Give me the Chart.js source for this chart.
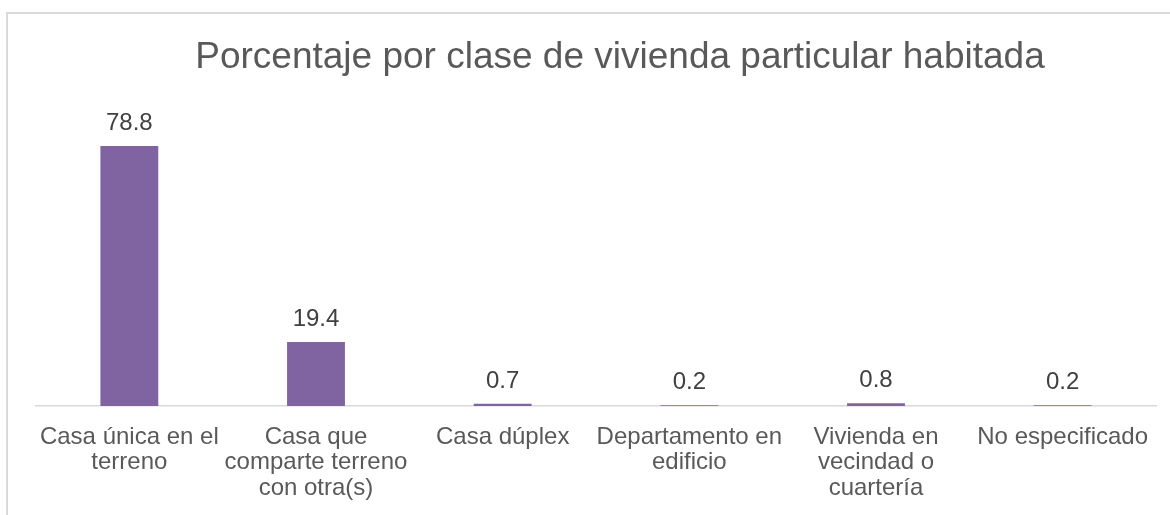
<!DOCTYPE html>
<html>
<head>
<meta charset="utf-8">
<script src="https://cdn.jsdelivr.net/npm/chart.js@4.4.0/dist/chart.umd.min.js"></script>
<style>
  html, body { margin: 0; padding: 0; background: #ffffff; }
  #wrap { position: relative; width: 1170px; height: 515px; overflow: hidden; }
  #frame { position: absolute; left: 6px; top: 12px; width: 1300px; height: 600px;
           border-left: 2px solid #d9d9d9; border-top: 2px solid #d9d9d9; pointer-events: none; }
  canvas { position: absolute; left: 0; top: 0; }
</style>
</head>
<body>
<div id="wrap">
  <canvas id="c" width="1170" height="515"></canvas>
  <div id="frame"></div>
</div>
<script>
const chartTitle = "Porcentaje por clase de vivienda particular habitada";
const categories = [
  ["Casa única en el", "terreno"],
  ["Casa que", "comparte terreno", "con otra(s)"],
  "Casa dúplex",
  ["Departamento en", "edificio"],
  ["Vivienda en", "vecindad o", "cuartería"],
  "No especificado"
];
const percentages = [78.8, 19.4, 0.7, 0.2, 0.8, 0.2];

const FONT = "'Liberation Sans', Arial, sans-serif";

const valueLabels = {
  id: 'valueLabels',
  afterDatasetsDraw(chart) {
    const ctx = chart.ctx;
    const meta = chart.getDatasetMeta(0);
    ctx.save();
    ctx.font = "24px " + FONT;
    ctx.fillStyle = "#404040";
    ctx.textAlign = "center";
    ctx.textBaseline = "alphabetic";
    meta.data.forEach((bar, i) => {
      const v = chart.data.datasets[0].data[i];
      ctx.fillText(v.toFixed(1), bar.x, bar.y - 16);
    });
    ctx.restore();
  }
};

const titleDraw = {
  id: 'titleDraw',
  afterDraw(chart) {
    const ctx = chart.ctx;
    ctx.save();
    ctx.font = "37px " + FONT;
    ctx.fillStyle = "#595959";
    ctx.textAlign = "center";
    ctx.textBaseline = "alphabetic";
    ctx.fillText(chartTitle, 620, 68);
    ctx.restore();
  }
};

new Chart(document.getElementById('c'), {
  type: 'bar',
  data: {
    labels: categories,
    datasets: [{
      data: percentages,
      backgroundColor: '#8064A2',
      borderWidth: 0,
      categoryPercentage: 1.0,
      barPercentage: 0.31
    }]
  },
  options: {
    responsive: false,
    animation: false,
    layout: { padding: { top: 109, left: 36, right: 14, bottom: 15 } },
    plugins: {
      legend: { display: false },
      title: { display: false },
      tooltip: { enabled: false }
    },
    scales: {
      x: {
        grid: { display: false, drawTicks: false },
        border: { display: true, color: '#d9d9d9', width: 1.5 },
        ticks: {
          color: '#595959',
          font: { family: FONT, size: 24, lineHeight: 1.05 },
          padding: 19,
          maxRotation: 0,
          minRotation: 0,
          autoSkip: false
        },
        afterFit(scale) { scale.height = 94; }
      },
      y: {
        display: false,
        min: 0,
        max: 90
      }
    }
  },
  plugins: [valueLabels, titleDraw]
});
</script>
</body>
</html>
